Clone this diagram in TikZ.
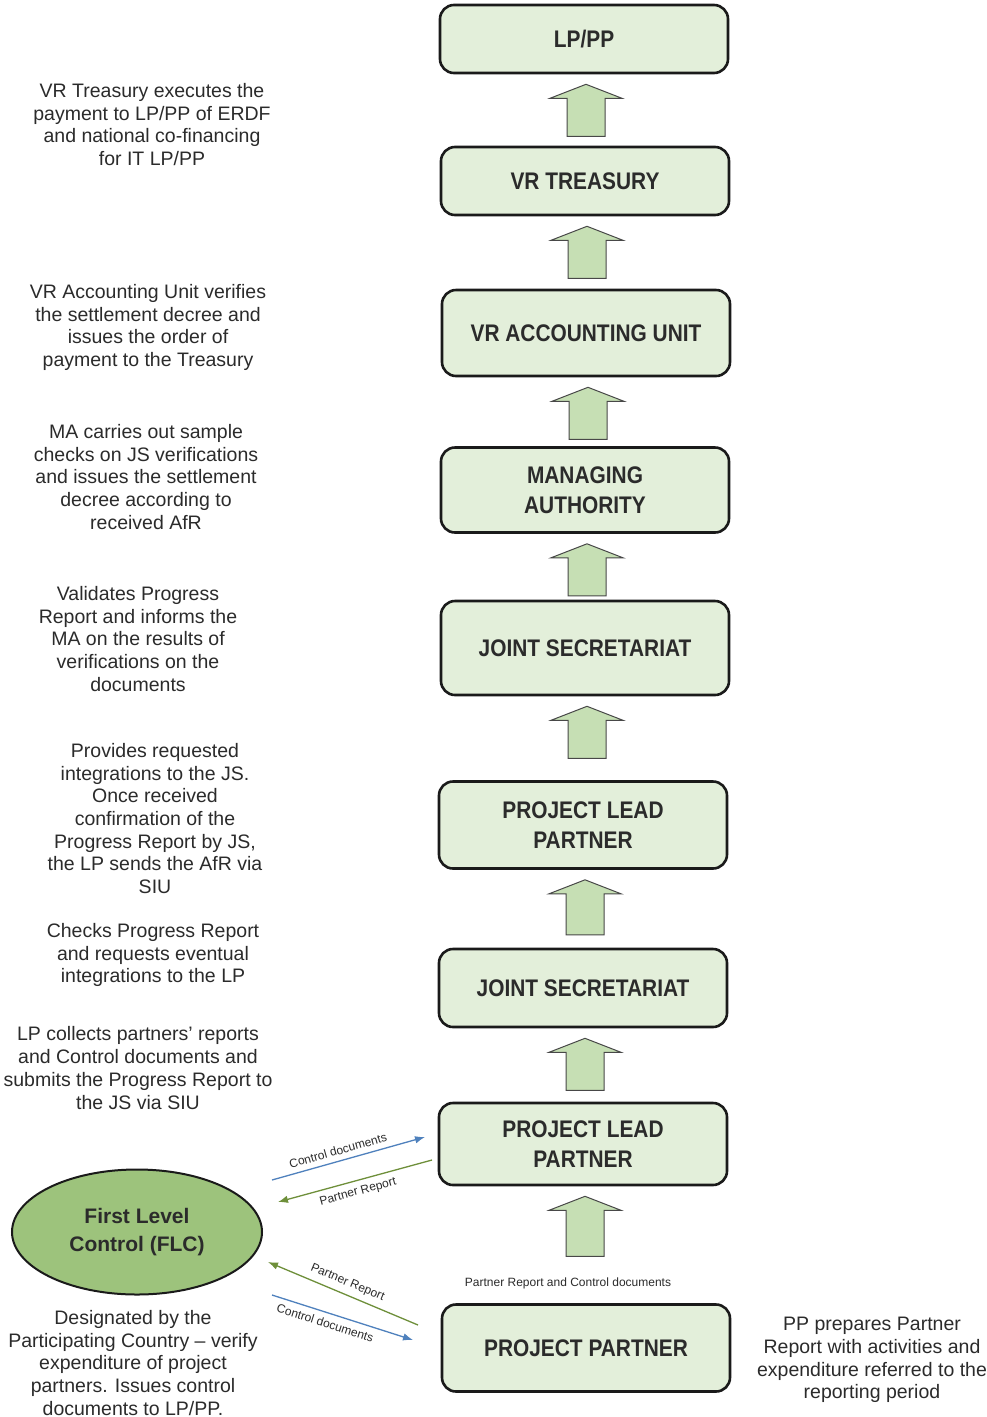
\documentclass[tikz,border=0pt]{standalone}
\usepackage{fontspec}
\setmainfont{Liberation Sans}
\newfontfamily\boxfont[FakeStretch=0.87]{Liberation Sans}
\usetikzlibrary{calc,arrows.meta,shapes.geometric}
\definecolor{boxfill}{HTML}{E3EFDA}
\definecolor{arrfill}{HTML}{C6DFB4}
\definecolor{flcfill}{HTML}{9DC37C}
\definecolor{edge}{HTML}{1A1A1A}
\definecolor{txt}{HTML}{2B2B2B}
\definecolor{docblue}{HTML}{4F81BD}
\definecolor{repgreen}{HTML}{6E8F3A}
\newcommand{\stagearrow}[2]{%
  \path ($(#1.south)+(2,10)$) coordinate (t);
  \draw[blockarrow] (t) -- ($(t)+(36,14)$) -- ($(t)+(19,14)$) -- ($(t)+(19,#2)$)
    -- ($(t)+(-19,#2)$) -- ($(t)+(-19,14)$) -- ($(t)+(-36,14)$) -- cycle;}
\begin{document}
\begin{tikzpicture}[x=1pt,y=-1pt,
  stagebox/.style={draw=edge, line width=2.6pt, rounded corners=14pt, fill=boxfill,
    minimum width=288pt, align=center, text=txt, inner sep=0pt,
    font=\boxfont\bfseries\fontsize{24}{29.5}\selectfont},
  note/.style={align=center, font=\fontsize{19.5}{22.7}\selectfont, text=txt, inner sep=0pt},
  blockarrow/.style={draw=edge!80, line width=1pt, fill=arrfill},
  flow/.style={line width=1.3pt, -{Latex[length=10pt,width=7.5pt]}},
  flowlabel/.style={font=\fontsize{12}{14}\selectfont, text=txt, sloped, inner sep=0.5pt}]
\fill[white] (0,0) rectangle (987,1417);
\useasboundingbox (0,0) rectangle (987,1417);

% stages
\node[stagebox, minimum height=68pt] (lppp) at (584,39) {LP/PP};
\node[stagebox, minimum height=68pt] (treas) at (585,181) {VR TREASURY};
\node[stagebox, minimum height=86pt] (acc) at (586,333) {VR ACCOUNTING UNIT};
\node[stagebox, minimum height=85pt] (ma) at (585,490) {MANAGING\\AUTHORITY};
\node[stagebox, minimum height=94pt] (js1) at (585,648) {JOINT SECRETARIAT};
\node[stagebox, minimum height=87pt] (lp1) at (583,825) {PROJECT LEAD\\PARTNER};
\node[stagebox, minimum height=78pt] (js2) at (583,988) {JOINT SECRETARIAT};
\node[stagebox, minimum height=82pt] (lp2) at (583,1144) {PROJECT LEAD\\PARTNER};
\node[stagebox, minimum height=87pt] (pp) at (586,1348) {PROJECT PARTNER};

% block arrows
\stagearrow{lppp}{52}
\stagearrow{treas}{52}
\stagearrow{acc}{52}
\stagearrow{ma}{52}
\stagearrow{js1}{52}
\stagearrow{lp1}{55}
\stagearrow{js2}{52}
\stagearrow{lp2}{60}

\node[font=\fontsize{12}{14}\selectfont, text=txt] (prcd) at (568,1283) {Partner Report and Control documents};

% FLC
\node[ellipse, draw=edge, line width=2pt, fill=flcfill, minimum width=250pt, minimum height=125pt,
  align=center, text=txt, font=\bfseries\fontsize{21}{28}\selectfont] (flc) at (137,1232) {First Level\\Control (FLC)};

\coordinate (c1s) at (272,1180); \coordinate (c1e) at (425,1137);
\coordinate (g1s) at (432,1160); \coordinate (g1e) at (278,1202);
\coordinate (g2s) at (418,1325); \coordinate (g2e) at (268,1262);
\coordinate (c2s) at (272,1295); \coordinate (c2e) at (413,1340);

\draw[flow, docblue] (c1s) -- node[flowlabel, above=5pt, pos=0.45] {Control documents} (c1e);
\draw[flow, repgreen] (g1s) -- node[flowlabel, below=5pt, pos=0.5] {Partner Report} (g1e);
\draw[flow, repgreen] (g2s) -- node[flowlabel, above=5pt, pos=0.5] {Partner Report} (g2e);
\draw[flow, docblue] (c2s) -- node[flowlabel, below=5pt, pos=0.4] {Control documents} (c2e);

% notes
\node[note] (n1) at (152,124.5) {VR Treasury executes the\\payment to LP/PP of ERDF\\and national co-financing\\for IT LP/PP};
\node[note] (n2) at (148,327.5) {VR Accounting Unit verifies\\the settlement decree and\\issues the order of\\payment  to the Treasury};
\node[note] (n3) at (146,477) {MA carries out sample\\checks on JS verifications\\and issues the settlement\\decree according to\\received AfR};
\node[note] (n4) at (138,639) {Validates Progress\\Report and informs the\\MA on the results of\\verifications on the\\documents};
\node[note] (n5) at (155,818.5) {Provides requested\\integrations to the JS.\\Once received\\confirmation of the\\Progress Report by JS,\\the LP sends the AfR via\\SIU};
\node[note] (n6) at (153,955) {Checks Progress Report\\and requests eventual\\integrations to the LP};
\node[note] (n7) at (138,1068) {LP collects partners' reports\\and Control documents and\\submits the Progress Report to\\the JS via SIU};
\node[note] (n8) at (133,1363) {Designated by the\\Participating Country – verify\\expenditure of project\\partners. Issues control\\documents to LP/PP.};
\node[note] (n9) at (872,1360) {PP prepares Partner\\Report with activities and\\expenditure referred to the\\reporting period};
\end{tikzpicture}
\end{document}
